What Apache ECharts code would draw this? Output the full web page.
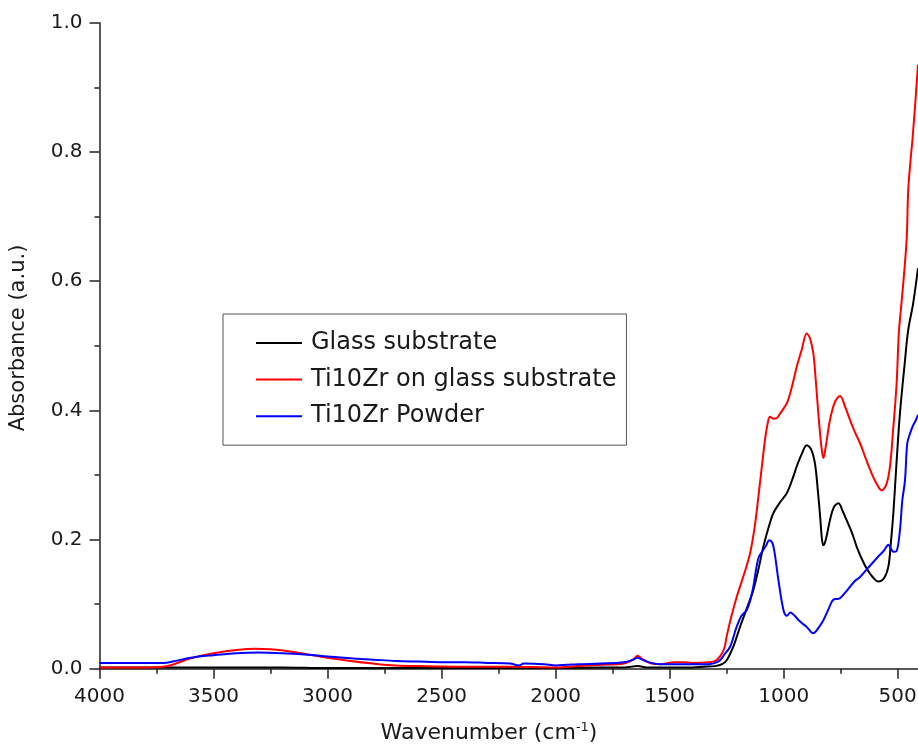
<!DOCTYPE html>
<html>
<head>
<meta charset="utf-8">
<script src="https://cdn.jsdelivr.net/npm/echarts@6/dist/echarts.min.js"></script>
<style>
  html, body { margin: 0; padding: 0; background: #ffffff; }
  #chart { width: 918px; height: 749px; }
</style>
</head>
<body>
<div id="chart"></div>
<script>
// FTIR absorbance spectra, wavenumber in cm-1
const glassWn = [4000, 3800, 3600, 3400, 3200, 3000, 2800, 2600, 2400, 2200, 2000, 1800, 1700, 1640, 1600, 1500, 1400, 1350, 1300, 1270, 1250, 1220, 1191, 1160, 1133, 1110, 1089, 1065, 1045, 1015, 986, 960, 943, 920, 899, 880, 863, 850, 840, 832, 826, 815, 797, 780, 760, 740, 724, 700, 680, 660, 636, 610, 585, 560, 541, 530, 519, 505, 490, 470, 454, 432, 411];
const glassAbs = [0.002, 0.002, 0.002, 0.002, 0.002, 0.001, 0.001, 0.001, 0.001, 0.001, 0.001, 0.002, 0.002, 0.004, 0.002, 0.002, 0.002, 0.003, 0.004, 0.007, 0.013, 0.035, 0.065, 0.095, 0.122, 0.155, 0.189, 0.220, 0.241, 0.258, 0.272, 0.295, 0.313, 0.333, 0.346, 0.340, 0.318, 0.275, 0.235, 0.200, 0.191, 0.200, 0.230, 0.250, 0.256, 0.243, 0.230, 0.210, 0.189, 0.172, 0.155, 0.142, 0.135, 0.140, 0.158, 0.195, 0.241, 0.320, 0.396, 0.470, 0.524, 0.566, 0.620];

const filmWn = [4000, 3800, 3720, 3680, 3600, 3500, 3400, 3320, 3250, 3150, 3050, 3000, 2900, 2800, 2700, 2600, 2400, 2200, 2000, 1900, 1800, 1700, 1660, 1640, 1620, 1580, 1540, 1480, 1440, 1400, 1330, 1300, 1279, 1260, 1250, 1230, 1206, 1175, 1147, 1125, 1111, 1095, 1082, 1070, 1060, 1045, 1030, 1010, 986, 965, 943, 920, 899, 885, 870, 860, 848, 835, 826, 815, 797, 775, 753, 730, 709, 690, 665, 645, 621, 595, 570, 550, 534, 520, 505, 495, 485, 470, 460, 454, 443, 435, 420, 411];
const filmAbs = [0.002, 0.002, 0.003, 0.006, 0.016, 0.024, 0.029, 0.031, 0.030, 0.026, 0.020, 0.017, 0.012, 0.008, 0.005, 0.004, 0.003, 0.003, 0.002, 0.004, 0.006, 0.008, 0.014, 0.020, 0.015, 0.008, 0.007, 0.010, 0.010, 0.009, 0.010, 0.012, 0.019, 0.032, 0.050, 0.080, 0.111, 0.145, 0.179, 0.225, 0.266, 0.315, 0.354, 0.380, 0.390, 0.387, 0.388, 0.398, 0.411, 0.435, 0.467, 0.495, 0.519, 0.512, 0.488, 0.450, 0.395, 0.345, 0.326, 0.345, 0.385, 0.413, 0.422, 0.405, 0.385, 0.368, 0.349, 0.330, 0.308, 0.288, 0.276, 0.285, 0.313, 0.370, 0.440, 0.520, 0.560, 0.620, 0.670, 0.740, 0.790, 0.820, 0.890, 0.935];

const powderWn = [4000, 3800, 3720, 3680, 3600, 3500, 3400, 3300, 3200, 3100, 3000, 2900, 2800, 2700, 2600, 2500, 2400, 2300, 2200, 2160, 2140, 2050, 2000, 1950, 1900, 1800, 1700, 1660, 1640, 1620, 1580, 1540, 1450, 1400, 1330, 1300, 1279, 1260, 1235, 1206, 1185, 1162, 1145, 1133, 1111, 1089, 1075, 1064, 1050, 1040, 1023, 1001, 986, 970, 955, 928, 900, 870, 850, 826, 800, 782, 765, 753, 720, 690, 665, 630, 592, 560, 541, 530, 519, 505, 490, 480, 468, 458, 445, 432, 420, 411];
const powderAbs = [0.009, 0.009, 0.009, 0.011, 0.017, 0.021, 0.024, 0.025, 0.024, 0.022, 0.019, 0.016, 0.014, 0.012, 0.011, 0.010, 0.010, 0.009, 0.008, 0.005, 0.008, 0.007, 0.005, 0.006, 0.007, 0.008, 0.010, 0.014, 0.017, 0.014, 0.009, 0.007, 0.007, 0.007, 0.007, 0.009, 0.013, 0.022, 0.034, 0.065, 0.082, 0.091, 0.108, 0.127, 0.171, 0.184, 0.192, 0.199, 0.195, 0.180, 0.137, 0.091, 0.082, 0.087, 0.083, 0.073, 0.065, 0.055, 0.062, 0.075, 0.095, 0.107, 0.108, 0.109, 0.122, 0.135, 0.142, 0.156, 0.171, 0.183, 0.192, 0.186, 0.181, 0.182, 0.215, 0.260, 0.292, 0.349, 0.365, 0.377, 0.385, 0.393];

const seriesNames = ['Glass substrate', 'Ti10Zr on glass substrate', 'Ti10Zr Powder'];
const seriesColors = ['#000000', '#ff0000', '#0000ff'];

const xMajorTicks = [500, 1000, 1500, 2000, 2500, 3000, 3500, 4000];
const xMinorTicks = [750, 1250, 1750, 2250, 2750, 3250, 3750];

const pairs = (xs, ys) => xs.map((x, i) => [x, ys[i]]);
const curves = [pairs(glassWn, glassAbs), pairs(filmWn, filmAbs), pairs(powderWn, powderAbs)];

const FONT = 'DejaVu Sans';
const INK = '#1a1a1a';
const X_MIN = 411, X_MAX = 4000;

const chart = echarts.init(document.getElementById('chart'), null, { renderer: 'canvas' });

chart.setOption({
  animation: false,
  backgroundColor: '#ffffff',
  textStyle: { fontFamily: FONT, color: INK },
  grid: { left: 99.5, right: 0, top: 22.7, bottom: 80.3, containLabel: false, outerBoundsMode: 'none' },
  legend: {
    orient: 'vertical',
    left: 223,
    top: 314,
    padding: [17, 10, 17, 33],
    itemGap: 12.6,
    itemWidth: 46,
    itemHeight: 2,
    icon: 'rect',
    borderColor: '#555555',
    borderWidth: 1,
    backgroundColor: '#ffffff',
    data: seriesNames,
    textStyle: { fontFamily: FONT, fontSize: 24, color: INK, padding: [0, 0, 0, 4] }
  },
  xAxis: [
    {
      type: 'value',
      inverse: true,
      min: X_MIN,
      max: X_MAX,
      position: 'bottom',
      axisLine: { onZero: false, lineStyle: { color: '#222222', width: 1.5 } },
      axisTick: { customValues: xMajorTicks, length: 10, lineStyle: { color: '#222222', width: 1.5 } },
      axisLabel: { customValues: xMajorTicks, fontFamily: FONT, fontSize: 20, color: INK, margin: 18, formatter: v => String(v) },
      splitLine: { show: false }
    },
    {
      type: 'value',
      inverse: true,
      min: X_MIN,
      max: X_MAX,
      position: 'bottom',
      axisLine: { show: false, onZero: false },
      axisTick: { customValues: xMinorTicks, length: 5, lineStyle: { color: '#222222', width: 1.5 } },
      axisLabel: { show: false },
      splitLine: { show: false }
    }
  ],
  yAxis: {
    type: 'value',
    min: 0,
    max: 1.0,
    interval: 0.2,
    position: 'left',
    axisLine: { show: true, onZero: false, lineStyle: { color: '#222222', width: 1.5 } },
    axisTick: { show: true, length: 10, lineStyle: { color: '#222222', width: 1.5 } },
    minorTick: { show: true, splitNumber: 2, length: 5, lineStyle: { color: '#222222', width: 1.5 } },
    axisLabel: { fontFamily: FONT, fontSize: 20, color: INK, margin: 17, formatter: v => v.toFixed(1) },
    splitLine: { show: false }
  },
  series: curves.map((data, i) => ({
    name: seriesNames[i],
    type: 'line',
    xAxisIndex: 0,
    data: data,
    showSymbol: false,
    smooth: 0.35,
    lineStyle: { color: seriesColors[i], width: 2 },
    itemStyle: { color: seriesColors[i] },
    z: 2 + i
  })),
  graphic: [
    {
      type: 'text',
      x: 19,
      y: 338,
      rotation: Math.PI / 2,
      style: {
        text: 'Absorbance (a.u.)',
        font: '21px "DejaVu Sans"',
        fill: INK,
        align: 'center',
        verticalAlign: 'middle'
      }
    },
    {
      type: 'text',
      x: 489,
      y: 733,
      style: {
        text: 'Wavenumber (cm{sup|-1})',
        font: '22px "DejaVu Sans"',
        fill: INK,
        align: 'center',
        verticalAlign: 'middle',
        rich: {
          sup: { fontSize: 13, fontFamily: FONT, fill: INK, verticalAlign: 'top', padding: [0, 0, 11, 0] }
        }
      }
    }
  ]
});
</script>
</body>
</html>
